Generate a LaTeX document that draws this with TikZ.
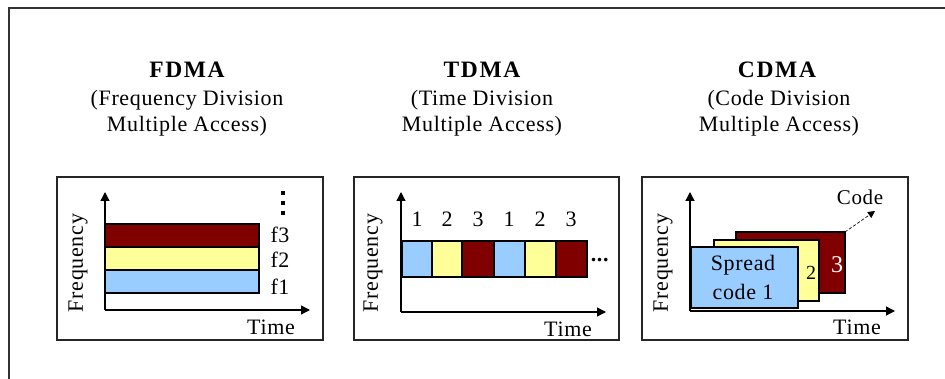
\documentclass[tikz,border=0pt]{standalone}
\usepackage{fontspec}
\setmainfont{Liberation Serif}[LetterSpace=3]
\newfontfamily\titlefont{Liberation Serif}[LetterSpace=7]
\usetikzlibrary{arrows.meta}
\definecolor{fblue}{RGB}{153,204,255}
\definecolor{fyellow}{RGB}{255,255,153}
\definecolor{fmaroon}{RGB}{128,0,0}
\begin{document}
\begin{tikzpicture}[x=1pt,y=-1pt,
  txt/.style={font=\fontsize{22}{26}\selectfont, inner sep=0pt},
  ttl/.style={font=\titlefont\fontsize{23.5}{27}\selectfont\bfseries, inner sep=0pt},
  panel/.style={draw=black!85, line width=1.3pt},
  axis/.style={line width=1.3pt, -{Triangle[length=9pt,width=9pt]}},
  band/.style={draw=black, line width=1.6pt},
  dotsq/.style={fill=black, minimum size=4pt, inner sep=0pt},
  codearrow/.style={densely dashed, line width=0.7pt, -{Triangle[length=7pt,width=7pt]}}]
\useasboundingbox (0,0) rectangle (945,379);
\draw[line width=1.5pt, black!80] (9,379) -- (9,8) -- (945,8);

% ---------- titles ----------
\node[ttl, anchor=base] (t1) at (187,78) {FDMA};
\node[txt, anchor=base] (t1a) at (187,106) {(Frequency Division};
\node[txt, anchor=base] (t1b) at (187,132) {Multiple Access)};
\node[ttl, anchor=base] (t2) at (482,78) {TDMA};
\node[txt, anchor=base] (t2a) at (482,106) {(Time Division};
\node[txt, anchor=base] (t2b) at (482,132) {Multiple Access)};
\node[ttl, anchor=base] (t3) at (777,78) {CDMA};
\node[txt, anchor=base] (t3a) at (779,106) {(Code Division};
\node[txt, anchor=base] (t3b) at (779,132) {Multiple Access)};

% ---------- FDMA panel ----------
\draw[panel] (57,177) rectangle (323,340);
\filldraw[band, fill=fmaroon] (105,224) rectangle (259,247);
\filldraw[band, fill=fyellow] (105,247) rectangle (259,270);
\filldraw[band, fill=fblue] (105,270) rectangle (259,293);
\coordinate (o1) at (105,310);
\coordinate (y1) at (105,192);
\coordinate (x1) at (310,310);
\draw[axis] (o1) -- (y1);
\draw[axis] (o1) -- (x1);
\node[txt] (f3) at (280,235) {f3};
\node[txt] (f2) at (280,260) {f2};
\node[txt] (f1) at (280,287) {f1};
\node[dotsq] (d1) at (283,193) {};
\node[dotsq] (d2) at (283,203) {};
\node[dotsq] (d3) at (283,213) {};
\node[txt, rotate=90] (fr1) at (78,263) {Frequency};
\node[txt] (tm1) at (271,327) {Time};

% ---------- TDMA panel ----------
\draw[panel] (354,177) rectangle (619,340);
\filldraw[band, fill=fblue]   (402,241) rectangle (432,277);
\filldraw[band, fill=fyellow] (432,241) rectangle (462,277);
\filldraw[band, fill=fmaroon] (462,241) rectangle (494,277);
\filldraw[band, fill=fblue]   (494,241) rectangle (525,277);
\filldraw[band, fill=fyellow] (525,241) rectangle (556,277);
\filldraw[band, fill=fmaroon] (556,241) rectangle (587,277);
\coordinate (o2) at (401,312);
\coordinate (y2) at (401,192);
\coordinate (x2) at (606,312);
\draw[axis] (o2) -- (y2);
\draw[axis] (o2) -- (x2);
\node[txt] (n1) at (417,219) {1};
\node[txt] (n2) at (447,219) {2};
\node[txt] (n3) at (478,219) {3};
\node[txt] (n4) at (509,219) {1};
\node[txt] (n5) at (540,219) {2};
\node[txt] (n6) at (571,219) {3};
\node[txt, anchor=base] (el) at (600,262) {\textbf{...}};
\node[txt, rotate=90] (fr2) at (373,263) {Frequency};
\node[txt] (tm2) at (568,329) {Time};

% ---------- CDMA panel ----------
\draw[panel] (642,177) rectangle (908,340);
\coordinate (o3) at (690,311);
\coordinate (y3) at (690,192);
\coordinate (x3) at (895,311);
\draw[axis] (o3) -- (y3);
\draw[axis] (o3) -- (x3);
\filldraw[draw=black, line width=1.2pt, fill=fmaroon] (736,232) rectangle (845,293);
\coordinate (c3) at (845,232);
\node[txt, text=white, font=\fontsize{24}{27}\selectfont] (s3) at (837,265) {3};
\filldraw[draw=black, line width=1.2pt, fill=fyellow] (714,240) rectangle (819,301);
\node[txt, font=\fontsize{20}{22}\selectfont] (s2) at (811,273) {2};
\filldraw[draw=black, line width=1.2pt, fill=fblue] (691,247) rectangle (798,308);
\node[txt] (sp1) at (743,265) {Spread};
\node[txt] (sp2) at (743,292) {code 1};
\node[txt, font=\fontsize{21}{24}\selectfont, anchor=base] (cd) at (860,205) {Code};
\coordinate (ca) at (875,211);
\draw[codearrow] (c3) -- (ca);
\node[txt, rotate=90] (fr3) at (663,263) {Frequency};
\node[txt] (tm3) at (857,327) {Time};
\end{tikzpicture}
\end{document}
